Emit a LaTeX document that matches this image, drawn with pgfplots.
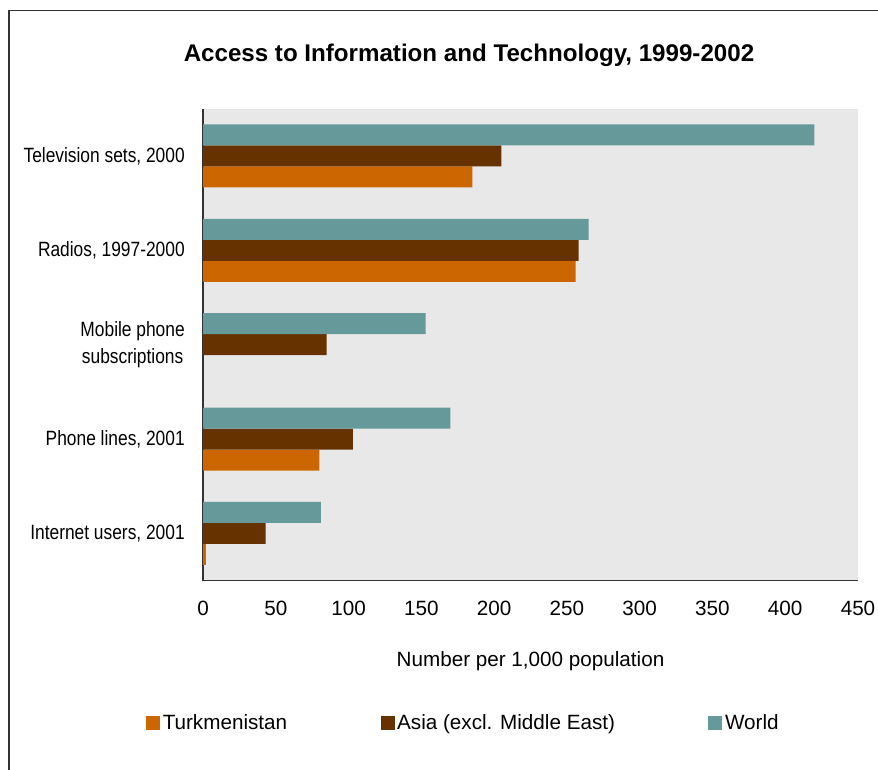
\documentclass[border=0pt]{standalone}
\usepackage{pgfplots}
\pgfplotsset{compat=1.18}
\usepackage{fontspec}
\setmainfont{Liberation Sans}
\newfontfamily\narrowfont{Liberation Sans}[FakeStretch=0.84]
\definecolor{world}{HTML}{669999}
\definecolor{asia}{HTML}{663300}
\definecolor{turk}{HTML}{CC6600}
\definecolor{bgc}{HTML}{E8E8E8}
\definecolor{framec}{HTML}{333333}
\begin{document}
\begin{tikzpicture}[x=0.75pt,y=0.75pt]
\useasboundingbox (0,0) rectangle (878,770);
\draw[framec, line width=0.9pt] (9,0) -- (9,759.3) -- (878,759.3);
\node[font=\fontsize{18.1}{21}\selectfont\bfseries] at (469,715) {Access to Information and Technology, 1999-2002};
\begin{axis}[
  at={(152.25pt,142pt)}, anchor=south west,
  width=491.25pt, height=354pt, scale only axis,
  xbar, bar width=0.2225,
  xmin=0, xmax=450, ymin=-0.5, ymax=4.5,
  xtick={0,50,...,450},
  ytick={0,1,2,3,4},
  yticklabels={{Internet users, 2001},{Phone lines, 2001},{Mobile phone\\subscriptions},{Radios, 1997-2000},{Television sets, 2000}},
  yticklabel style={font=\narrowfont\fontsize{15.5}{20}\selectfont, align=center, anchor=east, inner sep=0pt, xshift=-13.5pt},
  xticklabel style={font=\fontsize{15.5}{18}\selectfont, anchor=center, inner sep=0pt, yshift=-21pt},
  /pgf/number format/assume math mode=true,
  major tick length=0pt,
  axis x line*=bottom, axis y line*=left,
  axis line style={framec, line width=0.9pt, -},
  axis background/.style={fill=bgc},
  xlabel={Number per 1,000 population},
  xlabel style={font=\fontsize{15.5}{18}\selectfont, at={(axis description cs:0.5,-0.1695)}, anchor=center, inner sep=0pt},
  legend columns=3,
  legend style={at={(0.398,-0.3015)}, anchor=center, draw=none, fill=none,
    font=\fontsize{15.5}{18}\selectfont,
    /tikz/every even column/.append style={column sep=68pt},
    nodes={inner sep=2pt}},
  legend image code/.code={\fill[#1] (0pt,-5.25pt) rectangle (10.5pt,5.25pt);},
]
\addplot[fill=turk, draw=none, bar shift=-0.2225] coordinates {(2,0) (80,1) (256,3) (185,4)};
\addplot[fill=asia, draw=none, bar shift=0] coordinates {(43,0) (103,1) (85,2) (258,3) (205,4)};
\addplot[fill=world, draw=none, bar shift=0.2225] coordinates {(81,0) (170,1) (153,2) (265,3) (420,4)};
\legend{Turkmenistan, Asia (excl. Middle East), World}
\end{axis}
\end{tikzpicture}
\end{document}
